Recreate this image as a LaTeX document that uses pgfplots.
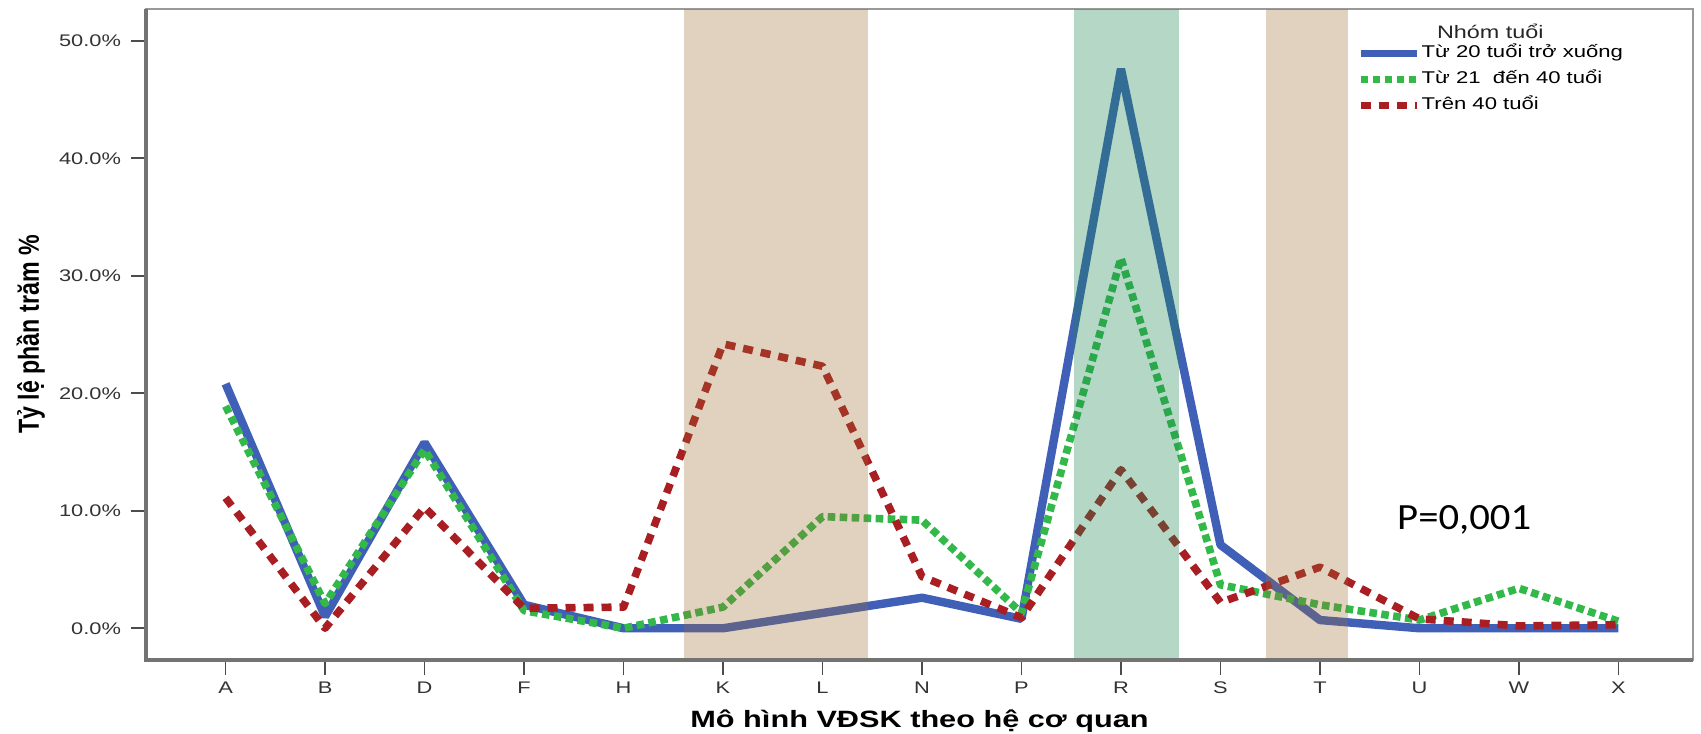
\documentclass[border=0pt]{standalone}
\usepackage{fontspec}
\setmainfont{Liberation Sans}
\newfontfamily\calibri{Carlito}
\usepackage{graphicx}
\usepackage{pgfplots}
\pgfplotsset{compat=1.18}

\definecolor{cBlue}{HTML}{4060B8}
\definecolor{cGreen}{HTML}{33B84A}
\definecolor{cRed}{HTML}{A81E22}
\definecolor{bandBrown}{HTML}{9B6A2E}
\definecolor{bandGreen}{HTML}{1A8A50}
\newcommand\hs[1]{\scalebox{1.3}[1]{#1}}

\begin{document}
\begin{tikzpicture}
\begin{axis}[
  scale only axis,
  width=773.5pt, height=325.5pt,
  xmin=-0.8, xmax=14.75, ymin=-2.7, ymax=52.7,
  xtick={0,1,...,14},
  xticklabels={\hs{A},\hs{B},\hs{D},\hs{F},\hs{H},\hs{K},\hs{L},\hs{N},\hs{P},\hs{R},\hs{S},\hs{T},\hs{U},\hs{W},\hs{X}},
  ytick={0,10,20,30,40,50},
  yticklabels={\hs{0.0\%},\hs{10.0\%},\hs{20.0\%},\hs{30.0\%},\hs{40.0\%},\hs{50.0\%}},
  tick align=outside, xtick pos=left, ytick pos=left,
  major tick length=7.5pt,
  tick style={line width=0.9pt, color=black!70},
  ticklabel style={font=\fontsize{8.4}{10}\selectfont, text=black!80},
  yticklabel style={xshift=-1.5pt},
  axis line style={draw=black!40, line width=1pt},
  clip=false,
  legend style={at={(0.783,0.948)}, anchor=north west, draw=none, fill=none,
    inner sep=0pt, outer sep=0pt, font=\fontsize{8.5}{10}\selectfont, row sep=2.5pt,
    nodes={inner sep=1pt, text height=6.5pt, text depth=2pt},
    /tikz/every even column/.append style={column sep=0pt}},
  legend cell align=left,
  legend image code/.code={\draw[#1, line width=3.2pt] (0pt,0pt) -- (28pt,0pt);},
]
\addplot[cBlue, line width=4.2pt, line join=bevel] coordinates {
 (0,20.8) (1,1.0) (2,15.8) (3,2.0) (4,0) (5,0) (6,1.3) (7,2.6) (8,0.8) (9,47.6) (10,7.1) (11,0.7) (12,0) (13,0) (14,0)};
\addlegendentry{\hs{Từ 20 tuổi trở xuống}}
\addplot[cGreen, line width=3.8pt, line join=round, dash pattern=on 3.8pt off 2.2pt] coordinates {
 (0,18.9) (1,2.1) (2,15.2) (3,1.5) (4,0) (5,1.8) (6,9.5) (7,9.2) (8,1.3) (9,31.5) (10,3.7) (11,2.0) (12,0.7) (13,3.4) (14,0.6)};
\addlegendentry{\hs{Từ 21\ \ đến 40 tuổi}}
\addplot[cRed, line width=3.8pt, line join=round, dash pattern=on 5pt off 4pt] coordinates {
 (0,11.1) (1,0) (2,10.3) (3,1.7) (4,1.8) (5,24.2) (6,22.3) (7,4.4) (8,0.9) (9,13.5) (10,2.2) (11,5.2) (12,0.8) (13,0.2) (14,0.3)};
\addlegendentry{\hs{Trên 40 tuổi}}
% shaded bands
\addplot[draw=none, fill=bandBrown, fill opacity=0.3, forget plot] coordinates {(4.61,-2.7) (4.61,52.7) (6.46,52.7) (6.46,-2.7)};
\addplot[draw=none, fill=bandGreen, fill opacity=0.33, forget plot] coordinates {(8.53,-2.7) (8.53,52.7) (9.58,52.7) (9.58,-2.7)};
\addplot[draw=none, fill=bandBrown, fill opacity=0.3, forget plot] coordinates {(10.46,-2.7) (10.46,52.7) (11.28,52.7) (11.28,-2.7)};
\draw[black!55, line width=2.2pt] (rel axis cs:0,1) -- (rel axis cs:0,0) -- (rel axis cs:1,0);
\node[font=\fontsize{9}{10}\selectfont, text=black!85] at (rel axis cs:0.869,0.965) {\hs{Nhóm tuổi}};
\node[anchor=base, font=\calibri\fontsize{18.5}{20}\selectfont] at (axis cs:12.45,8.44) {\scalebox{1.1}[1]{P=0,001}};
\node[anchor=base, font=\bfseries\fontsize{11.8}{13}\selectfont] at ([yshift=-33.5pt]rel axis cs:0.5,0) {\hs{Mô hình VĐSK theo hệ cơ quan}};
\node[anchor=base, rotate=90, font=\bfseries\fontsize{11.6}{13}\selectfont] at ([xshift=-53.5pt]rel axis cs:0,0.5) {\scalebox{1}[1.25]{Tỷ lệ phần trăm \%}};
\coordinate (ll) at (rel axis cs:0,0);
\coordinate (ur) at (rel axis cs:1,1);
\end{axis}
\pgfresetboundingbox
\path ([shift={(-73pt,-36.5pt)}]ll) rectangle ([shift={(4pt,4.5pt)}]ur);
\end{tikzpicture}
\end{document}
